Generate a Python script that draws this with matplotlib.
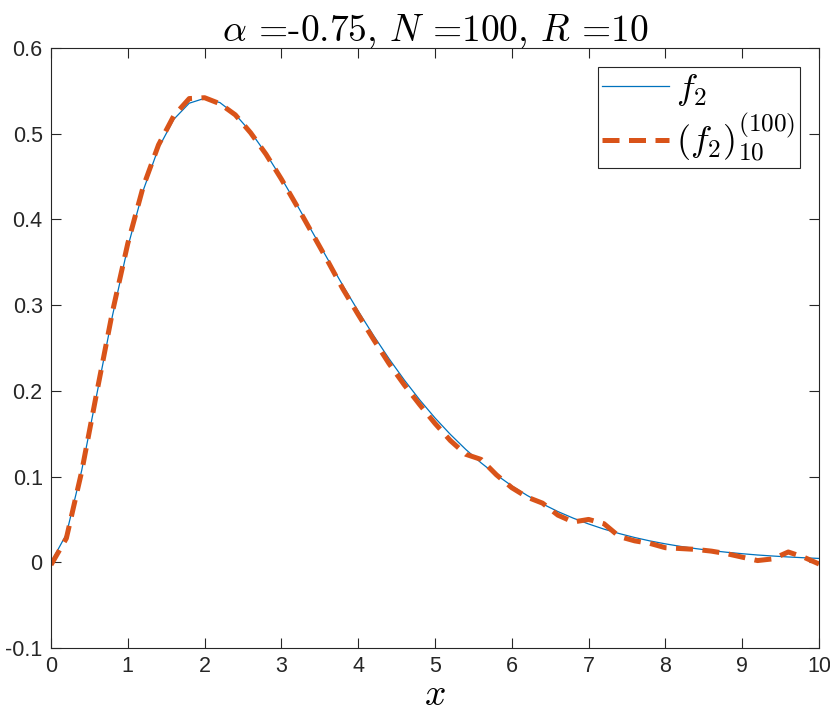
import numpy as np
import matplotlib
matplotlib.use('Agg')
import matplotlib.pyplot as plt

plt.rcParams['mathtext.fontset'] = 'cm'
plt.rcParams['font.family'] = ['Liberation Sans', 'DejaVu Sans']

# values
x_vals = [0.0, 0.2, 0.4, 0.6, 0.8, 1.0, 1.2, 1.4, 1.6, 1.8,
          2.0, 2.2, 2.4, 2.6, 2.8, 3.0, 3.2, 3.4, 3.6, 3.8,
          4.0, 4.2, 4.4, 4.6, 4.8, 5.0, 5.2, 5.4, 5.6, 5.8,
          6.0, 6.2, 6.4, 6.6, 6.8, 7.0, 7.2, 7.4, 7.6, 7.8,
          8.0, 8.2, 8.4, 8.6, 8.8, 9.0, 9.2, 9.4, 9.6, 9.8, 10.0]

f2_exact = [0.0, 0.0327, 0.1073, 0.1976, 0.2876, 0.3679, 0.4337, 0.4834, 0.5169, 0.5356,
            0.5413, 0.5363, 0.5225, 0.5021, 0.4768, 0.4481, 0.4174, 0.3858, 0.3541, 0.3230,
            0.2931, 0.2646, 0.2377, 0.2127, 0.1896, 0.1684, 0.1492, 0.1317, 0.1160, 0.1019,
            0.0892, 0.0780, 0.0681, 0.0592, 0.0515, 0.0447, 0.0387, 0.0335, 0.0289, 0.0249,
            0.0215, 0.0185, 0.0159, 0.0136, 0.0117, 0.0100, 0.0085, 0.0073, 0.0062, 0.0053, 0.0045]

f2_approx = [-0.003, 0.028, 0.106, 0.200, 0.292, 0.372, 0.438, 0.487, 0.521, 0.541,
             0.542, 0.535, 0.522, 0.501, 0.476, 0.447, 0.416, 0.384, 0.352, 0.319,
             0.289, 0.260, 0.232, 0.207, 0.184, 0.162, 0.142, 0.126, 0.120, 0.102,
             0.087, 0.076, 0.069, 0.055, 0.047, 0.050, 0.045, 0.030, 0.025, 0.022,
             0.017, 0.016, 0.015, 0.013, 0.010, 0.006, 0.002, 0.004, 0.012, 0.006, -0.002]

blue = '#0072BD'
orange = '#D95319'
axcol = '#262626'

fig = plt.figure(figsize=(8.3, 7.24), dpi=100)
ax = fig.add_axes([51/830, 76/724, 768/830, 600/724])

ax.plot(x_vals, f2_exact, color=blue, lw=0.9, label=r'$f_2$')
ax.plot(x_vals, f2_approx, color=orange, lw=3.6, dashes=(3.4, 1.9),
        label=r'$(f_2)^{(100)}_{10}$')

ax.set_xlim(0, 10)
ax.set_ylim(-0.1, 0.6)
ax.set_xticks(np.arange(0, 11, 1))
ax.set_yticks(np.arange(-0.1, 0.61, 0.1))
ax.set_yticklabels(['-0.1', '0', '0.1', '0.2', '0.3', '0.4', '0.5', '0.6'])

ax.tick_params(direction='in', top=True, right=True, length=7, width=0.8,
               colors=axcol, labelsize=15.5, pad=6)
for s in ax.spines.values():
    s.set_color(axcol)
    s.set_linewidth(0.8)

ax.set_title(r'$\alpha$ =-0.75, $N$ =100, $R$ =10', fontsize=27,
             family='cmr10', math_fontfamily='cm', pad=5)
ax.set_xlabel(r'$x$', fontsize=27, labelpad=0)

leg = ax.legend(loc='upper right', bbox_to_anchor=(0.975, 0.968), fontsize=26,
                handlelength=1.85, handletextpad=0.2, borderpad=0.12,
                labelspacing=0.12, fancybox=False, framealpha=1,
                borderaxespad=0)
leg.get_frame().set_edgecolor(axcol)
leg.get_frame().set_linewidth(0.8)

plt.savefig('out.png', dpi=100)
